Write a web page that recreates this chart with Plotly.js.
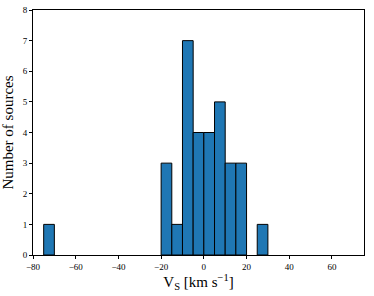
<!DOCTYPE html>
<html>
<head>
<meta charset="utf-8">
<script src="https://cdn.plot.ly/plotly-3.0.1.min.js"></script>
<style>html,body{margin:0;padding:0;background:#fff;}#chart{width:374px;height:296px;}</style>
</head>
<body>
<div id="chart"></div>
<script>
// Histogram bins (left edges, km/s) and counts
const binStarts = [-75, -20, -15, -10, -5, 0, 5, 10, 15, 25];
const counts    = [1, 3, 1, 7, 4, 4, 5, 3, 3, 1];
const binWidth = 5;
const xTicks = [-80, -60, -40, -20, 0, 20, 40, 60];
const yTicks = [0, 1, 2, 3, 4, 5, 6, 7, 8];

const centers = binStarts.map(s => s + binWidth / 2);

const trace = {
  type: 'bar',
  x: centers,
  y: counts,
  width: binStarts.map(() => binWidth),
  marker: {color: '#1f77b4', line: {color: '#000', width: 1}},
  hoverinfo: 'x+y'
};

const font = {family: '"Liberation Serif", "DejaVu Serif", serif', color: '#000'};

const layout = {
  width: 374, height: 296,
  margin: {l: 33, r: 10, t: 10, b: 41},
  paper_bgcolor: '#fff', plot_bgcolor: '#fff',
  showlegend: false,
  bargap: 0,
  font: font,
  xaxis: {
    range: [-80, 75],
    tickvals: xTicks,
    ticktext: xTicks.map(v => v < 0 ? '\u2212' + Math.abs(v) : String(v)),
    ticks: 'outside', ticklen: 3, tickwidth: 1, tickcolor: '#000',
    tickfont: {family: font.family, size: 9, color: '#000'},
    showgrid: false, zeroline: false,
    showline: true, linecolor: '#000', linewidth: 1, mirror: true,
    title: {text: 'V<sub>S</sub> [km s<sup>\u22121</sup>]', font: {family: font.family, size: 15, color: '#000'}, standoff: 5}
  },
  yaxis: {
    range: [0, 8],
    tickvals: yTicks,
    ticks: 'outside', ticklen: 3, tickwidth: 1, tickcolor: '#000',
    tickfont: {family: font.family, size: 9, color: '#000'},
    showgrid: false, zeroline: false,
    showline: true, linecolor: '#000', linewidth: 1, mirror: true,
    title: {text: 'Number of sources', font: {family: font.family, size: 15, color: '#000'}, standoff: 5}
  }
};

Plotly.newPlot('chart', [trace], layout, {displayModeBar: false, staticPlot: true});
</script>
</body>
</html>
